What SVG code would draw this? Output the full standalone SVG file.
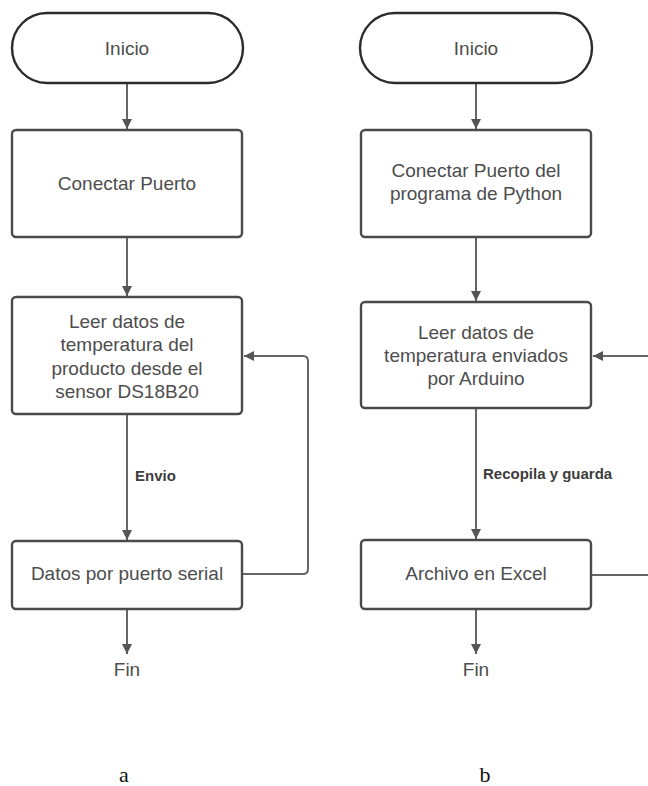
<svg xmlns="http://www.w3.org/2000/svg" width="648" height="786" viewBox="0 0 648 786">
  <style>
    .term { fill: #ffffff; stroke: #2b2b2b; stroke-width: 2.4; }
    .box { fill: #ffffff; stroke: #4a4a4a; stroke-width: 2.4; }
    .txt { font-family: "Liberation Sans", Arial, sans-serif; font-size: 19px; fill: #4d4d4d; text-anchor: middle; dominant-baseline: central; }
    .lbl { font-family: "Liberation Sans", Arial, sans-serif; font-size: 15px; font-weight: bold; fill: #3c3c3c; dominant-baseline: central; }
    .cap { font-family: "Liberation Serif", "Times New Roman", serif; font-size: 22px; fill: #111111; text-anchor: middle; }
    .edge { fill: none; stroke: #666666; stroke-width: 2; }
  </style>
  <defs>
    <marker id="arrow" viewBox="0 0 10 10" refX="10" refY="5" markerWidth="5" markerHeight="5" orient="auto" markerUnits="strokeWidth">
      <path d="M0,0 L10,5 L0,10 Z" fill="#555555"/>
    </marker>
  </defs>

  <rect width="648" height="786" fill="#ffffff"/>

  <!-- connectors -->
  <g id="connectors">
    <!-- flow a -->
    <path class="edge" d="M127,83 V129" marker-end="url(#arrow)"/>
    <path class="edge" d="M127,237 V296" marker-end="url(#arrow)"/>
    <path class="edge" d="M127,414 V540" marker-end="url(#arrow)"/>
    <path class="edge" d="M127,609 V654" marker-end="url(#arrow)"/>
    <path class="edge" d="M242,574 H303 Q308,574 308,569 V361 Q308,356 303,356 H244" marker-end="url(#arrow)"/>
    <text class="lbl" x="135" y="475">Envio</text>
    <!-- flow b -->
    <path class="edge" d="M476,83 V129" marker-end="url(#arrow)"/>
    <path class="edge" d="M476,237 V301" marker-end="url(#arrow)"/>
    <path class="edge" d="M476,408 V539" marker-end="url(#arrow)"/>
    <path class="edge" d="M476,609 V654" marker-end="url(#arrow)"/>
    <path class="edge" d="M591,575 H660 V356 H593" marker-end="url(#arrow)"/>
    <text class="lbl" x="483" y="473">Recopila y guarda</text>
  </g>

  <!-- flow a nodes -->
  <g id="a-inicio">
    <rect class="term" x="12" y="13" width="231" height="70" rx="35" ry="35"/>
    <text class="txt" x="127" y="48">Inicio</text>
  </g>
  <g id="a-conectar">
    <rect class="box" x="12" y="130" width="230" height="107" rx="4"/>
    <text class="txt" x="127" y="183">Conectar Puerto</text>
  </g>
  <g id="a-leer">
    <rect class="box" x="12" y="297" width="230" height="117" rx="4"/>
    <text class="txt" x="127" y="321.5">Leer datos de</text>
    <text class="txt" x="127" y="344.8">temperatura del</text>
    <text class="txt" x="127" y="368.2">producto desde el</text>
    <text class="txt" x="127" y="391.5">sensor DS18B20</text>
  </g>
  <g id="a-datos">
    <rect class="box" x="12" y="541" width="230" height="68" rx="4"/>
    <text class="txt" x="127" y="573">Datos por puerto serial</text>
  </g>
  <g id="a-fin">
    <text class="txt" x="127" y="669">Fin</text>
  </g>

  <!-- flow b nodes -->
  <g id="b-inicio">
    <rect class="term" x="360" y="13" width="232" height="70" rx="35" ry="35"/>
    <text class="txt" x="476" y="48">Inicio</text>
  </g>
  <g id="b-conectar">
    <rect class="box" x="361" y="130" width="230" height="107" rx="4"/>
    <text class="txt" x="476" y="170">Conectar Puerto del</text>
    <text class="txt" x="476" y="193">programa de Python</text>
  </g>
  <g id="b-leer">
    <rect class="box" x="361" y="302" width="230" height="106" rx="4"/>
    <text class="txt" x="476" y="332">Leer datos de</text>
    <text class="txt" x="476" y="355">temperatura enviados</text>
    <text class="txt" x="476" y="378">por Arduino</text>
  </g>
  <g id="b-archivo">
    <rect class="box" x="361" y="540" width="230" height="69" rx="4"/>
    <text class="txt" x="476" y="573">Archivo en Excel</text>
  </g>
  <g id="b-fin">
    <text class="txt" x="476" y="669">Fin</text>
  </g>

  <!-- captions -->
  <text class="cap" x="124" y="782">a</text>
  <text class="cap" x="485" y="782">b</text>
</svg>
